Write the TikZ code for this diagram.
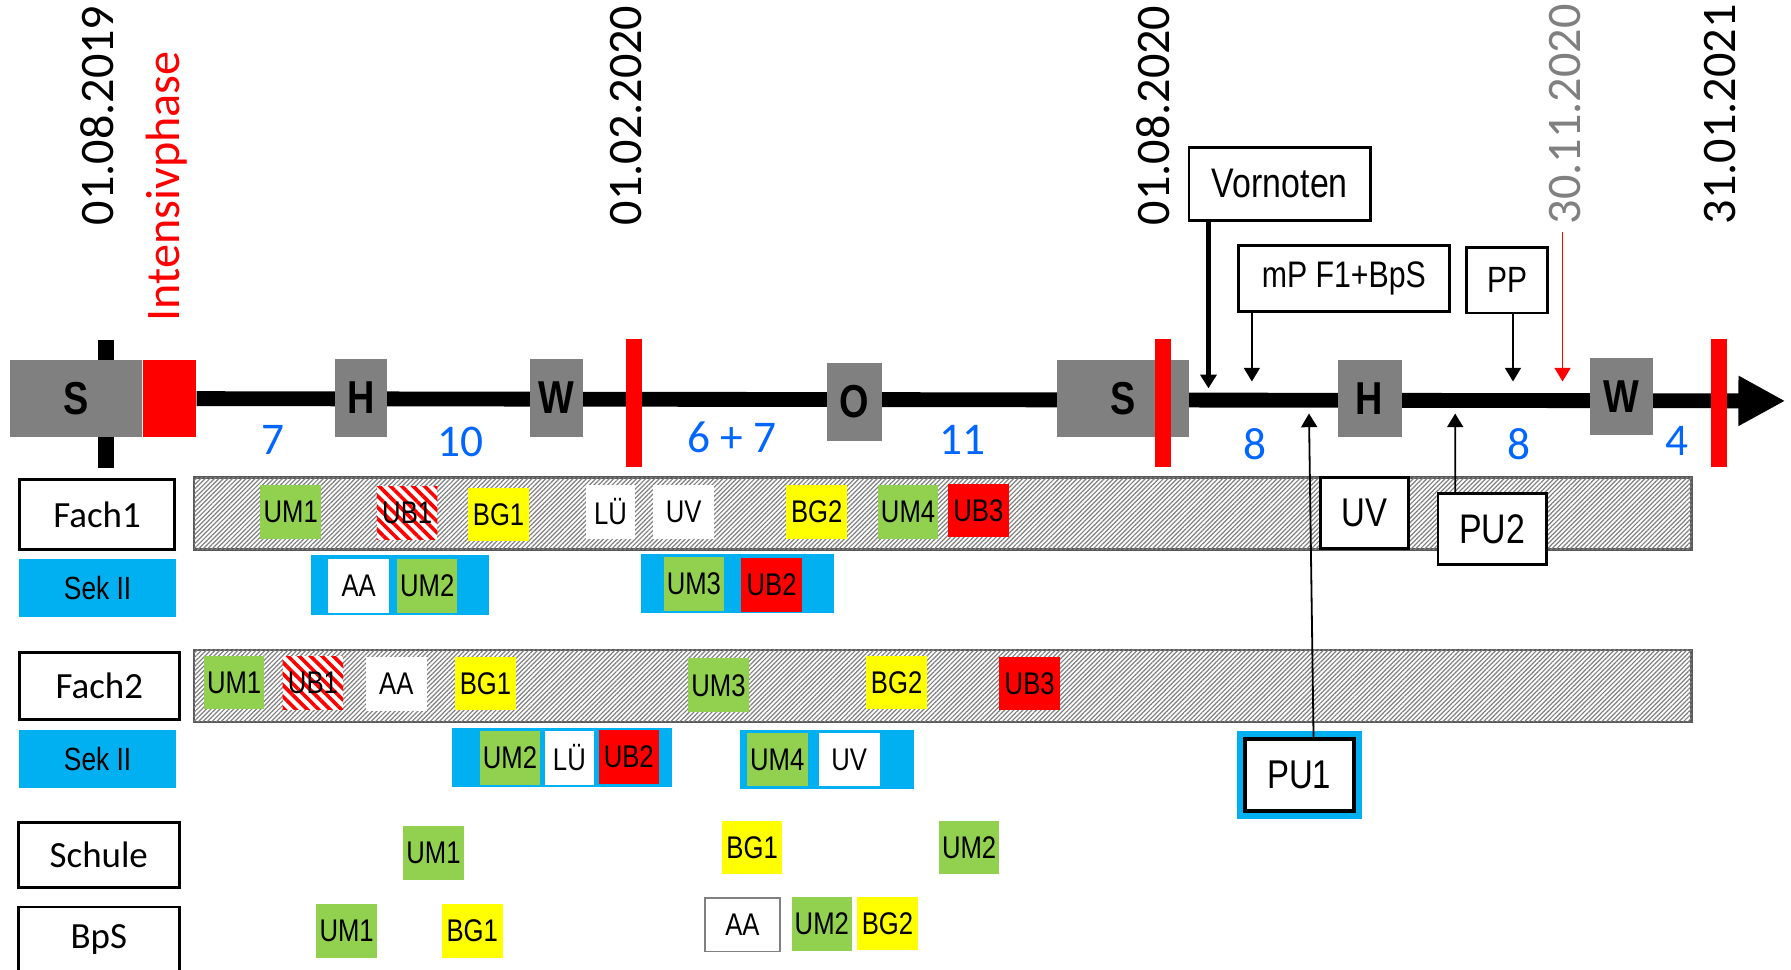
\documentclass[tikz,border=0pt]{standalone}
\usepackage{fontspec}
\setmainfont{Carlito}
\newfontfamily\narrow[FakeStretch=0.82]{Liberation Sans}
\usepackage{xcolor}
\usetikzlibrary{arrows.meta, patterns.meta, positioning}

\definecolor{segray}{HTML}{808080}
\definecolor{grn}{HTML}{92D050}
\definecolor{yel}{HTML}{FFFF00}
\definecolor{skyb}{HTML}{00B0F0}
\definecolor{numblue}{HTML}{0066FF}
\definecolor{hatchgray}{HTML}{595959}

\begin{document}
\begin{tikzpicture}[x=0.1mm, y=-0.1mm,
        seg/.style={fill=segray, inner sep=0, font=\narrow\bfseries\fontsize{11.5}{12}\selectfont},
        datum/.style={rotate=90, anchor=west, inner sep=0, font=\fontsize{12}{14}\selectfont},
        wk/.style={inner sep=0, text=numblue, font=\fontsize{11.3}{13}\selectfont},
        lab/.style={draw, line width=0.7pt, fill=white, inner sep=0, font=\fontsize{9.2}{11}\selectfont},
        sek/.style={fill=skyb, minimum width=13.7mm, minimum height=5.1mm, inner sep=0, font=\narrow\fontsize{8}{9}\selectfont},
        hatchbar/.style={draw=hatchgray, line width=0.6pt, fill=white,
            postaction={pattern={Lines[angle=45,distance=0.8pt,line width=0.3pt]}, pattern color=gray}},
        tag/.style={minimum width=5.3mm, minimum height=4.7mm, inner sep=0, font=\narrow\fontsize{7.8}{9}\selectfont},
        um/.style={tag, fill=grn},
        bg/.style={tag, fill=yel},
        ub/.style={tag, fill=red},
        ubx/.style={tag, fill=white,
            postaction={pattern={Lines[angle=-45,distance=2pt,line width=0.9pt]}, pattern color=red}},
        wt/.style={tag, fill=white},
        call/.style={draw, line width=0.7pt, fill=white, inner sep=0, font=\narrow\fontsize{10}{12}\selectfont},
        arr/.style={-{Triangle[width=1.4mm,length=1.2mm]}, line width=0.45pt}
    ]
    \useasboundingbox (0,0) rectangle (1568,849.2);

    % timeline
    \fill (86,298) rectangle (100,410);
    \node[seg, minimum width=11.5mm, minimum height=6.8mm] (s1) at (66.5,349) {S};
    \node[fill=red, minimum width=4.6mm, minimum height=6.8mm, inner sep=0, anchor=west] (iph) at (s1.east) {};
    \coordinate (tend) at (1563,351);
    \draw[line width=1.3mm, -{Triangle[length=4.1mm,width=4.1mm]}] (iph.east) -- (tend);
    \node[seg, minimum width=4.6mm, minimum height=6.9mm] (h1) at (316,348.5) {H};
    \node[seg, minimum width=4.6mm, minimum height=6.9mm] (w1) at (487,348.5) {W};
    \node[seg, minimum width=4.8mm, minimum height=6.8mm] (o1) at (748,352) {O};
    \node[seg, minimum width=11.6mm, minimum height=6.8mm] (s2) at (983,349) {S};
    \node[seg, minimum width=5.6mm, minimum height=6.8mm] (h2) at (1199,349) {H};
    \node[seg, minimum width=5.5mm, minimum height=6.8mm] (w2) at (1419.5,347) {W};
    \foreach \x in {555,1018,1505}
        \fill[red] (\x-7,297) rectangle (\x+7,409);

    % dates
    \node[datum] (d1) at (85,198) {01.08.2019};
    \node[datum, text=red] (iphase) at (145.5,282) {Intensivphase};
    \node[datum] (d2) at (548,198) {01.02.2020};
    \node[datum] (d3) at (1010,198) {01.08.2020};
    \node[datum, text=segray] (d4) at (1370,197) {30.11.2020};
    \node[datum] (d5) at (1506,197) {31.01.2021};

    % weeks
    \node[wk] (n1) at (239,385) {7};
    \node[wk] (n2) at (403,387) {10};
    \node[wk] (n3) at (641,383) {6 + 7};
    \node[wk] (n4) at (843,385) {11};
    \node[wk] (n5) at (1099,389) {8};
    \node[wk] (n6) at (1330,389) {8};
    \node[wk] (n7) at (1468,386) {4};

    % callouts
    \node[call, minimum width=15.9mm, minimum height=6.4mm, font=\narrow\fontsize{10.3}{12}\selectfont] (vorn) at (1120.5,161) {Vornoten};
    \node[call, minimum width=18.5mm, minimum height=5.8mm, font=\narrow\fontsize{9.2}{11}\selectfont] (mp) at (1176.5,244) {mP F1+BpS};
    \node[call, minimum width=7.1mm, minimum height=5.7mm, font=\narrow\fontsize{9.1}{11}\selectfont] (pp) at (1319.5,245.5) {PP};
    \coordinate (tvorn) at (1058,340);
    \coordinate (tmp) at (1096,334);
    \coordinate (tpp) at (1324.6,334);
    \coordinate (nov0) at (1368,203);
    \coordinate (tnov) at (1368,334);
    \draw[arr, line width=1.2pt] (vorn.south -| tvorn) -- (tvorn);
    \draw[arr] (mp.south -| tmp) -- (tmp);
    \draw[arr] (pp.south -| tpp) -- (tpp);
    \draw[arr, red] (nov0) -- (tnov);

    % Fach1
    \node[lab, minimum width=13.6mm, minimum height=6.1mm] (fach1) at (85,450.5) {Fach1};
    \draw[hatchbar] (170,418) rectangle (1481,481);
    \node[um] (f1um1) at (254.5,448) {UM1};
    \node[ubx] (f1ub1) at (356.5,449) {UB1};
    \node[bg] (f1bg1) at (436.5,450.5) {BG1};
    \node[wt, minimum width=4.3mm] (f1lu) at (534.5,448) {LÜ};
    \node[wt] (f1uv) at (598.5,448) {UV};
    \node[bg] (f1bg2) at (715,448) {BG2};
    \node[um] (f1um4) at (795,448) {UM4};
    \node[ub] (f1ub3) at (856.5,447) {UB3};

    % Sek II (1)
    \node[sek] (sek1) at (85.5,514.5) {Sek II};
    \fill[skyb] (272,486) rectangle (428,538);
    \node[wt] (s1aa) at (314,513) {AA};
    \node[um] (s1um2) at (374,513) {UM2};
    \fill[skyb] (561,485) rectangle (730,537);
    \node[um] (s1um3) at (607.5,511) {UM3};
    \node[ub] (s1ub2) at (675.5,512) {UB2};

    % Fach2
    \node[lab, minimum width=14mm, minimum height=5.9mm] (fach2) at (87,600.5) {Fach2};
    \draw[hatchbar] (170,569) rectangle (1481,632);
    \node[um] (f2um1) at (205,597.5) {UM1};
    \node[ubx] (f2ub1) at (274,598) {UB1};
    \node[wt] (f2aa) at (347,599) {AA};
    \node[bg] (f2bg1) at (425,598.5) {BG1};
    \node[um] (f2um3) at (629,600) {UM3};
    \node[bg] (f2bg2) at (785,597.5) {BG2};
    \node[ub] (f2ub3) at (901.5,598.5) {UB3};

    % Sek II (2)
    \node[sek] (sek2) at (85.5,664.5) {Sek II};
    \fill[skyb] (396,637) rectangle (588,689);
    \node[um] (s2um2) at (446.5,663.5) {UM2};
    \node[wt, minimum width=4.3mm] (s2lu) at (498.5,663.5) {LÜ};
    \node[ub] (s2ub2) at (550.5,662.5) {UB2};
    \fill[skyb] (648,639) rectangle (800,691);
    \node[um] (s2um4) at (680.5,665) {UM4};
    \node[wt] (s2uv) at (743.5,665) {UV};

    % Schule, BpS
    \node[lab, minimum width=14.1mm, minimum height=5.7mm] (schule) at (86.5,748.5) {Schule};
    \node[um] (scum1) at (379.5,747) {UM1};
    \node[bg] (scbg1) at (658.5,742) {BG1};
    \node[um] (scum2) at (848.5,742) {UM2};
    \node[lab, minimum width=14.1mm, minimum height=5.7mm] (bps) at (86.5,822.5) {BpS};
    \node[um] (bpum1) at (303.5,815) {UM1};
    \node[bg] (bpbg1) at (413.5,815) {BG1};
    \node[wt, minimum width=6.6mm, draw=gray, line width=0.4pt] (bpaa) at (650,809.5) {AA};
    \node[um] (bpum2) at (719.5,809) {UM2};
    \node[bg] (bpbg2) at (777,808.5) {BG2};

    % exams
    \node[call, minimum width=7.7mm, minimum height=6.2mm] (uv) at (1194.5,449) {UV};
    \node[call, minimum width=9.5mm, minimum height=6.2mm, font=\narrow\fontsize{10.3}{12}\selectfont] (pu2) at (1306.5,463) {PU2};
    \node[call, line width=1pt, minimum width=9.5mm, minimum height=6.3mm,
        preaction={draw=skyb, line width=4pt}] (pu1) at (1137.5,678.5) {PU1};
    \coordinate (tpu1) at (1146,362);
    \coordinate (tpu2) at (1274,362);
    \draw[arr] ([xshift=1.25mm]pu1.north) -- (tpu1);
    \draw[arr] ([xshift=-3.25mm]pu2.north) -- (tpu2);
\end{tikzpicture}
\end{document}
